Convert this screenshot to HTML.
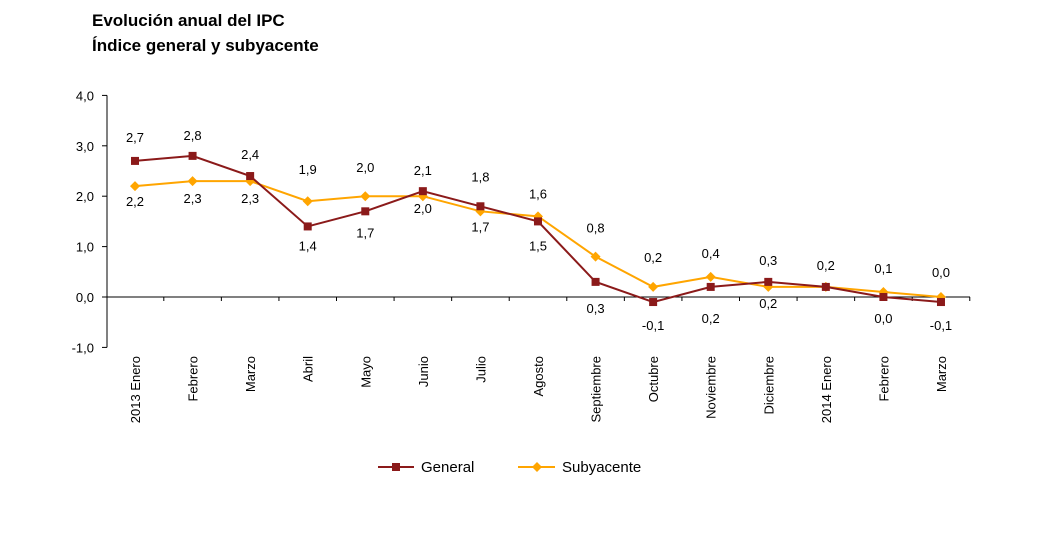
<!DOCTYPE html>
<html><head><meta charset="utf-8"><style>
body{margin:0;background:#fff;width:1055px;height:555px;overflow:hidden;font-family:"Liberation Sans",Arial,sans-serif}
</style></head><body>
<svg id="chart" width="1055" height="555" xmlns="http://www.w3.org/2000/svg" font-family="Liberation Sans, Arial, sans-serif">
<text x="92" y="26" font-size="17" font-weight="bold">Evolución anual del IPC</text>
<text x="92" y="51" font-size="17" font-weight="bold">Índice general y subyacente</text>
<g id="axes"></g><g id="series"></g>
<g>
<line x1="378" y1="467" x2="414" y2="467" stroke="#8B1A1A" stroke-width="2"/>
<rect x="392" y="463" width="8" height="8" fill="#8B1A1A"/>
<text x="421" y="472" font-size="15">General</text>
<line x1="518" y1="467" x2="555" y2="467" stroke="#FFA500" stroke-width="2"/>
<polygon points="537,462 542,467 537,472 532,467" fill="#FFA500"/>
<text x="562" y="472" font-size="15">Subyacente</text>
</g>
</svg>
<script>
const categories=["2013 Enero","Febrero","Marzo","Abril","Mayo","Junio","Julio","Agosto","Septiembre","Octubre","Noviembre","Diciembre","2014 Enero","Febrero","Marzo"];
const general=[2.7,2.8,2.4,1.4,1.7,2.1,1.8,1.5,0.3,-0.1,0.2,0.3,0.2,0.0,-0.1];
const subyacente=[2.2,2.3,2.3,1.9,2.0,2.0,1.7,1.6,0.8,0.2,0.4,0.2,0.2,0.1,0.0];
const yTicks=[-1,0,1,2,3,4];
// label placement (pixel offsets from point to label centre; null = no label)
const generalLabelDy=[-24,-21,-22,19,21,-21,-30,24,26,23,31,-22,-22,21,23];
const subLabelDy=[15,17,17,-32,-29,12,15,-23,-29,-30,-24,16,null,-24,-25];
const NS="http://www.w3.org/2000/svg";
const x=i=>135+i*57.57;
const y=v=>297-v*50.4;
const fmt=v=>v.toFixed(1).replace('.',',');
function mk(tag,attrs,parent,txt){const e=document.createElementNS(NS,tag);for(const k in attrs)e.setAttribute(k,attrs[k]);if(txt!==undefined)e.textContent=txt;parent.appendChild(e);return e;}
const axes=document.getElementById('axes'),ser=document.getElementById('series');
let yl=mk('line',{x1:107,y1:y(4),x2:107,y2:y(-1),stroke:'#000'},axes);


yTicks.forEach(t=>{
 mk('line',{x1:102,y1:y(t),x2:107,y2:y(t),stroke:'#000'},axes);
 let tx=mk('text',{x:94,y:y(t)+5,'font-size':13,'text-anchor':'end'},axes,fmt(t));
 
 
});
let xl=mk('line',{x1:107,y1:y(0),x2:970,y2:y(0),stroke:'#000'},axes);


categories.forEach((c,i)=>{
 mk('line',{x1:x(i)+28.8,y1:y(0),x2:x(i)+28.8,y2:y(0)+4,stroke:'#000'},axes);
 let tx=mk('text',{transform:`translate(${x(i)+5},356) rotate(-90)`,'font-size':13,'text-anchor':'end'},axes,c);
 
 
});
function drawSeries(vals,color,name,dys,marker){
 let p=mk('polyline',{points:vals.map((v,i)=>x(i)+','+y(v)).join(' '),fill:'none',stroke:color,'stroke-width':2},ser);
 
 
 vals.forEach((v,i)=>{
  let m;
  if(marker==='sq') m=mk('rect',{x:x(i)-4,y:y(v)-4,width:8,height:8,fill:color},ser);
  else m=mk('polygon',{points:`${x(i)},${y(v)-5} ${x(i)+5},${y(v)} ${x(i)},${y(v)+5} ${x(i)-5},${y(v)}`,fill:color},ser);
  
  
  if(dys[i]===null)return;
  let t=mk('text',{x:x(i),y:y(v)+dys[i]+5,'font-size':13,'text-anchor':'middle'},ser,fmt(v));
  
  
 });
}
drawSeries(subyacente,'#FFA500','subyacente',subLabelDy,'di');
drawSeries(general,'#8B1A1A','general',generalLabelDy,'sq');
</script>
</body></html>
